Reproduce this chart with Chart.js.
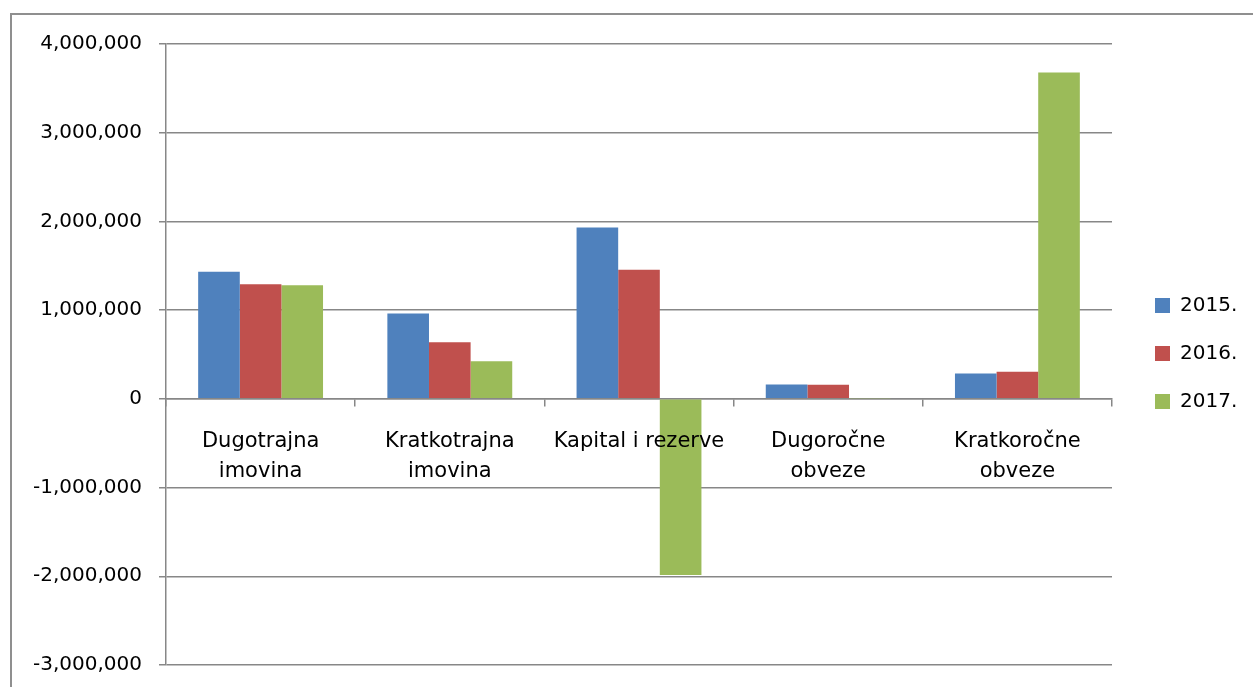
<!DOCTYPE html>
<html>
<head>
<meta charset="utf-8">
<script src="https://cdn.jsdelivr.net/npm/chart.js@4.4.1/dist/chart.umd.min.js"></script>
<style>
  html, body { margin: 0; padding: 0; background: #fff; overflow: hidden; }
  canvas { display: block; }
</style>
</head>
<body>
<canvas id="c" width="1253" height="687"></canvas>
<script>
const categories = [["Dugotrajna", "imovina"], ["Kratkotrajna", "imovina"], "Kapital i rezerve", ["Dugoročne", "obveze"], ["Kratkoročne", "obveze"]];
const seriesNames = ["2015.", "2016.", "2017."];
const values2015 = [1432000, 962000, 1931000, 162000, 286000];
const values2016 = [1293000, 639000, 1454000, 160000, 305000];
const values2017 = [1282000, 425000, -1985000, 8000, 3680000];
const colors = ["#4F81BD", "#C0504D", "#9BBB59"];
const yMin = -3000000, yMax = 4000000, yStep = 1000000;

const FONT = "'DejaVu Sans', sans-serif";
const GRID = "#878787";

const framePlugin = {
  id: 'frame',
  beforeDraw(chart) {
    const ctx = chart.ctx;
    ctx.save();
    ctx.fillStyle = "#fff";
    ctx.fillRect(0, 0, chart.width, chart.height);
    ctx.fillStyle = "#8f8f8f";
    ctx.fillRect(10, 13, chart.width - 10, 2);
    ctx.fillRect(10, 13, 2, chart.height - 13);
    ctx.restore();
  }
};

const legendPlugin = {
  id: 'sideLegend',
  afterDraw(chart) {
    const ctx = chart.ctx;
    ctx.save();
    ctx.font = "20px " + FONT;
    ctx.textBaseline = "middle";
    ctx.textAlign = "left";
    const x0 = 1155, yC = 305, gap = 48;
    chart.data.datasets.forEach((ds, i) => {
      const y = yC + i * gap;
      ctx.fillStyle = ds.backgroundColor;
      ctx.fillRect(x0, y - 7, 15, 15);
      ctx.fillStyle = "#000";
      ctx.fillText(ds.label, x0 + 25, y + 1);
    });
    ctx.restore();
  }
};

new Chart(document.getElementById('c'), {
  type: 'bar',
  data: {
    labels: categories,
    datasets: [
      { label: seriesNames[0], data: values2015, backgroundColor: colors[0] },
      { label: seriesNames[1], data: values2016, backgroundColor: colors[1] },
      { label: seriesNames[2], data: values2017, backgroundColor: colors[2] }
    ]
  },
  options: {
    responsive: false,
    animation: false,
    devicePixelRatio: 1,
    layout: { padding: { left: 0, top: 44, right: 141, bottom: 22 } },
    datasets: { bar: { barPercentage: 1.0, categoryPercentage: 0.66 } },
    plugins: { legend: { display: false }, tooltip: { enabled: false } },
    scales: {
      x: {
        position: { y: 0 },
        grid: { display: true, drawOnChartArea: false, drawTicks: true, tickLength: 7, color: GRID, offset: true, lineWidth: 1.5 },
        border: { display: true, color: GRID, width: 1.5 },
        ticks: { z: 1, color: "#000", font: { family: FONT, size: 21, lineHeight: 1.45 }, padding: 20, maxRotation: 0, autoSkip: false }
      },
      y: {
        min: yMin, max: yMax,
        afterFit(scale) { scale.width = 166; scale.paddingTop = 0; scale.paddingBottom = 0; },
        grid: { color: GRID, lineWidth: 1.5, drawTicks: true, tickLength: 7 },
        border: { display: true, color: GRID, width: 1.5 },
        ticks: {
          stepSize: yStep, color: "#000", padding: 17,
          font: { family: FONT, size: 20 },
          callback: v => v.toLocaleString('en-US')
        }
      }
    }
  },
  plugins: [framePlugin, legendPlugin]
});
</script>
</body>
</html>
